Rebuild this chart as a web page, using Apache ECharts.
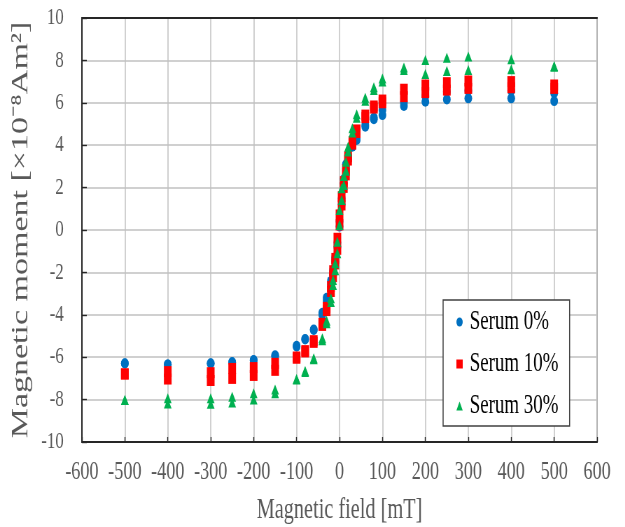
<!DOCTYPE html>
<html>
<head>
<meta charset="utf-8">
<script src="https://cdn.jsdelivr.net/npm/echarts@6/dist/echarts.min.js"></script>
<style>
html, body { margin: 0; padding: 0; background: #fff; overflow: hidden; }
#wrap { width: 625px; height: 527px; overflow: hidden; }
#main { width: 893px; height: 527px; transform: scaleX(0.7); transform-origin: 0 0; }
</style>
</head>
<body>
<div id="wrap"><div id="main"></div></div>
<script>
// magnetic field steps [mT], same for both sweep branches
var fields = [500, 400, 300, 250, 200, 150, 100, 80, 60, 40, 30, 20, 15, 10, 5, 0, -5, -10, -15, -20, -30, -40, -60, -80, -100, -150, -200, -250, -300, -400, -500];

var serum0Up   = [6.45, 6.57, 6.57, 6.52, 6.32, 6.0, 5.66, 5.3, 4.95, 4.3, 4.0, 3.5, 3.1, 2.4, 1.5, 0.4, -0.6, -1.3, -1.9, -2.4, -3.2, -3.9, -4.69, -5.14, -5.46, -5.91, -6.13, -6.23, -6.29, -6.34, -6.29];
var serum0Down = [6.08, 6.21, 6.21, 6.16, 6.05, 5.85, 5.42, 5.22, 4.87, 4.25, 3.93, 3.3, 2.9, 2.2, 1.2, 0.16, -0.8, -1.5, -2.1, -2.6, -3.35, -4.0, -4.72, -5.16, -5.5, -5.95, -6.15, -6.25, -6.3, -6.35, -6.3];

var serum10Up   = [6.84, 7.0, 7.03, 6.95, 6.84, 6.64, 6.13, 5.85, 5.42, 4.72, 4.17, 3.46, 2.83, 2.28, 1.57, 0.71, -0.39, -1.34, -1.92, -2.67, -3.65, -4.4, -5.22, -5.69, -5.99, -6.29, -6.49, -6.53, -6.73, -6.68, -6.79];
var serum10Down = [6.68, 6.71, 6.68, 6.6, 6.48, 6.29, 6.0, 5.75, 5.3, 4.6, 4.05, 3.3, 2.6, 2.01, 1.18, 0.24, -0.91, -1.6, -2.2, -2.9, -3.8, -4.5, -5.3, -5.75, -6.05, -6.62, -6.86, -7.0, -7.1, -7.03, -6.79];

var serum30Up   = [7.74, 8.05, 8.18, 8.13, 8.02, 7.67, 7.15, 6.73, 6.24, 5.46, 4.8, 3.93, 3.22, 2.55, 1.97, 0.94, -0.55, -1.57, -2.36, -3.22, -4.28, -5.11, -6.05, -6.65, -7.03, -7.52, -7.7, -7.86, -7.94, -7.94, -8.02];
var serum30Down = [7.7, 7.58, 7.55, 7.5, 7.36, 7.55, 7.0, 6.6, 6.1, 5.3, 4.6, 3.7, 2.8, 2.12, 1.42, 0.23, -1.1, -1.9, -2.6, -3.4, -4.4, -5.2, -6.1, -6.7, -7.05, -7.7, -7.99, -8.14, -8.2, -8.18, -8.02];

var seriesNames = ['Serum 0%', 'Serum 10%', 'Serum 30%'];

function pairs(up, down) {
    var out = [];
    for (var i = 0; i < fields.length; i++) {
        out.push([fields[i], up[i]]);
        out.push([fields[i], down[i]]);
    }
    return out;
}

var font = '"Liberation Serif", "Times New Roman", serif';
var chart = echarts.init(document.getElementById('main'));
var option = {
    backgroundColor: '#fff',
    animation: false,
    textStyle: { fontFamily: font },
    grid: {
        left: 117, right: 40, top: 18, bottom: 85,
        outerBoundsMode: 'none',
        show: true, borderColor: '#8c8c8c', borderWidth: 2
    },
    legend: {
        orient: 'vertical',
        left: 633, top: 300,
        padding: [7, 16, 5, 19],
        itemGap: 12,
        itemWidth: 9, itemHeight: 9,
        backgroundColor: '#fff',
        borderColor: '#404040', borderWidth: 1.5,
        textStyle: { fontFamily: font, fontSize: 27, color: '#000', lineHeight: 30, padding: [0, 0, 0, 5] },
        data: seriesNames
    },
    xAxis: [{
        type: 'value',
        min: -600, max: 600, interval: 100,
        name: 'Magnetic field [mT]',
        nameLocation: 'middle',
        nameGap: 54,
        nameTextStyle: { fontFamily: font, fontSize: 29, color: '#595959' },
        axisLine: { onZero: false, lineStyle: { color: '#262626', width: 2 } },
        axisTick: { inside: true, length: 5, lineStyle: { color: '#262626', width: 1.4 } },
        axisLabel: { fontFamily: font, fontSize: 26, color: '#595959', margin: 17 },
        splitLine: { lineStyle: { color: '#c0c0c0', width: 1.5 } }
    }, {
        type: 'value', position: 'top',
        min: -600, max: 600, interval: 100,
        axisLine: { onZero: false, lineStyle: { color: '#262626', width: 2 } },
        axisTick: { show: false }, axisLabel: { show: false }, splitLine: { show: false }
    }],
    yAxis: {
        type: 'value',
        min: -10, max: 10, interval: 2,
        name: 'Magnetic moment [×10⁻⁸Am²]',
        nameLocation: 'middle',
        nameRotate: 90,
        nameGap: 70,
        nameTextStyle: { fontFamily: font, fontSize: 34, color: '#595959' },
        axisLine: { onZero: false, lineStyle: { color: '#262626', width: 2 } },
        axisTick: { inside: true, length: 7, lineStyle: { color: '#262626', width: 1.4 } },
        axisLabel: { fontFamily: font, fontSize: 24, color: '#595959', margin: 26 },
        splitLine: { lineStyle: { color: '#c0c0c0', width: 1.5 } }
    },
    series: [{
        name: seriesNames[0], type: 'scatter',
        symbol: 'circle', symbolSize: [11, 10],
        itemStyle: { color: '#0070c0', opacity: 1 },
        data: pairs(serum0Up, serum0Down)
    }, {
        name: seriesNames[1], type: 'scatter',
        symbol: 'rect', symbolSize: [11, 11],
        itemStyle: { color: '#ff0000', opacity: 1 },
        data: pairs(serum10Up, serum10Down)
    }, {
        name: seriesNames[2], type: 'scatter',
        symbol: 'triangle', symbolSize: [11, 10],
        itemStyle: { color: '#00b050', opacity: 1 },
        data: pairs(serum30Up, serum30Down)
    }]
};
chart.setOption(option);
</script>
</body>
</html>
